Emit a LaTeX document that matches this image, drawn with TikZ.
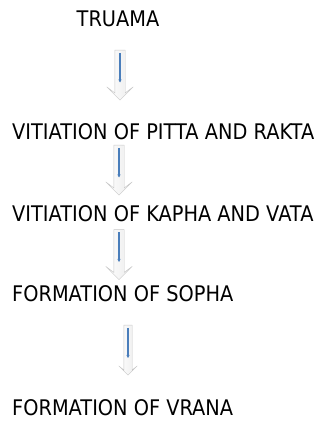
\documentclass[tikz,border=0pt]{standalone}
\usepackage{fontspec}
\setmainfont{DejaVu Sans}[FakeStretch=0.9]
\usepackage{tikz}
\usetikzlibrary{shapes.arrows,arrows.meta}
\usetikzlibrary{positioning}
\definecolor{arrowblue}{RGB}{74,126,187}
\tikzset{
stage/.style={inner sep=0pt,font=\fontsize{21.5}{25}\selectfont},
downarrow/.style={single arrow,shape border rotate=270,
minimum width=26pt,minimum height=50pt,inner sep=5pt,
single arrow head extend=8pt,single arrow head indent=6pt,
draw=black!22,left color=white,right color=black!8},
shaft/.style={draw=arrowblue,line width=2pt,-{Stealth[length=3pt,width=3pt]}}
}
\begin{document}
\begin{tikzpicture}[x=1pt,y=-1pt]
\useasboundingbox (0,0) rectangle (323,425);

\node[stage,anchor=base] (truama) at (118,27) {TRUAMA};
\node[stage,anchor=base west] (pitta) at (12,139.5) {VITIATION OF PITTA AND RAKTA};
\node[stage,anchor=base west] (kapha) at (12,221.5) {VITIATION OF KAPHA AND VATA};
\node[stage,anchor=base west] (sopha) at (12,301.5) {FORMATION OF SOPHA};
\node[stage,anchor=base west] (vrana) at (12,415.5) {FORMATION OF VRANA};

\node[downarrow] (arr1) at (120,72.5) {};
\node[downarrow] (arr2) at (119,167.5) {};
\node[downarrow] (arr3) at (119,252) {};
\node[downarrow,minimum width=18pt,inner sep=4pt,single arrow head extend=5pt,single arrow head indent=4pt] (arr4) at (128,348) {};

\foreach \a in {arr1,arr2,arr3,arr4}
\draw[shaft] ([yshift=-3pt]\a.tail) -- ([yshift=-10pt]\a.center);

\end{tikzpicture}
\end{document}
